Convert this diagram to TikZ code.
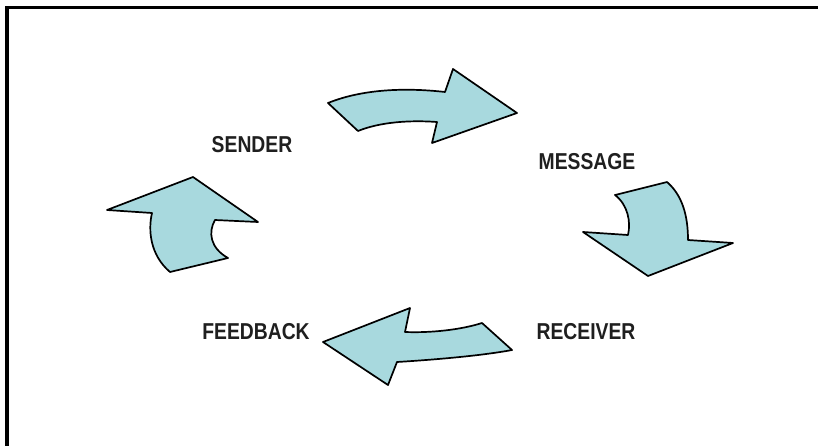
\documentclass[tikz,border=0pt]{standalone}
\usepackage{fontspec}
\newfontfamily\lblfont[FakeStretch=0.84]{Liberation Sans}
\definecolor{arrowfill}{RGB}{168,217,222}
\begin{document}
\begin{tikzpicture}[x=1pt,y=-1pt,
  bentarrow/.style={draw=black,fill=arrowfill,line width=1.7pt,line join=round},
  stagelabel/.style={font=\lblfont\bfseries\fontsize{23}{23}\selectfont,text=black!88,inner sep=0pt}]
  \useasboundingbox (0,0) rectangle (818,446);
  \fill[white] (0,0) rectangle (818,446);
  % frame: top and left edges
  \draw[line width=3.5pt,line cap=rect] (7,446) -- (7,7.5) -- (818,7.5);

  % sender -> message
  \draw[bentarrow] (328,103) .. controls (365,88) and (410,88) .. (445,92)
    -- (453,69) -- (517,113) -- (432,143) -- (437,122)
    .. controls (410,120) and (380,122) .. (358,131) -- cycle;
  % message -> receiver
  \draw[bentarrow] (615,195) -- (667,182) .. controls (682,195) and (688,215) .. (688,240)
    -- (733,243) -- (648,276) -- (583,232) -- (628,235)
    .. controls (631,222) and (628,205) .. (615,195) -- cycle;
  % receiver -> feedback
  \draw[bentarrow] (323,342) -- (410,308) -- (405,332)
    .. controls (430,333) and (460,330) .. (482,323) -- (512,350)
    .. controls (480,356) and (430,360) .. (397,362) -- (388,385) -- cycle;
  % feedback -> sender
  \draw[bentarrow] (107,210) -- (193,177) -- (258,222) -- (215,220)
    .. controls (208,232) and (210,248) .. (228,258) -- (170,272)
    .. controls (150,255) and (148,230) .. (152,213) -- cycle;

  \node[stagelabel] (sender)   at (252,145) {SENDER};
  \node[stagelabel] (message)  at (587,162) {MESSAGE};
  \node[stagelabel] (receiver) at (586,332) {RECEIVER};
  \node[stagelabel] (feedback) at (256,332) {FEEDBACK};
\end{tikzpicture}
\end{document}
